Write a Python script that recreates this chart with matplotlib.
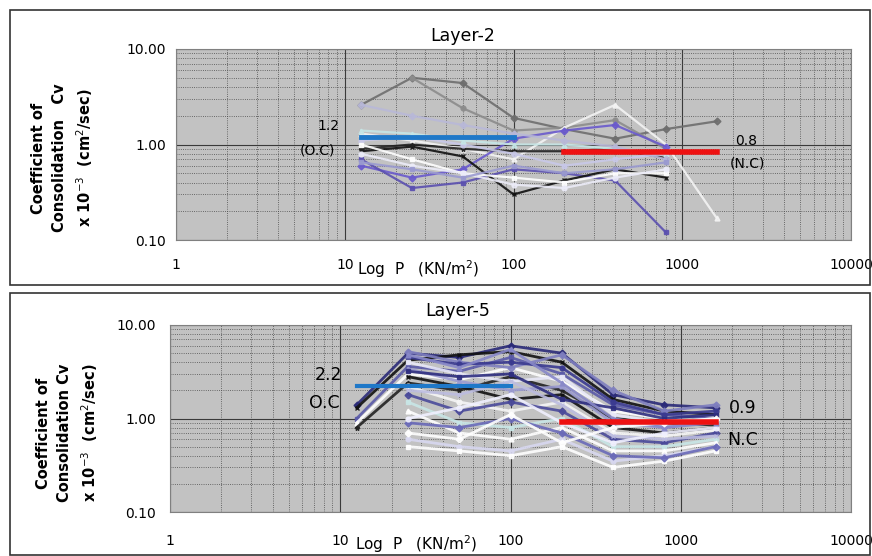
import numpy as np
import matplotlib
matplotlib.use("Agg")
import matplotlib.pyplot as plt
from matplotlib.patches import Rectangle
from matplotlib.ticker import LogLocator, FixedLocator, NullFormatter

plt.rcParams['font.family'] = ['DejaVu Sans']

# load steps (kN/m2)
pressure = [12.5, 25, 50, 100, 200, 400, 800, 1600]
nan = np.nan

# Layer-2 test curves (Cv x 1e-3 cm2/sec)
layer2_series = [
    ([2.6, 5.0, 4.4, 1.9, 1.45, 1.15, 1.45, 1.75], '#6e6e6e', 'D'),
    ([nan, 5.0, 2.4, 1.4, 1.5, 1.8, 0.9, nan], '#8c8c8c', 'o'),
    ([1.3, 1.1, 0.9, 0.7, 1.5, 2.6, 1.0, 0.17], '#f4f4f4', '^'),
    ([0.6, 0.45, 0.55, 1.15, 1.4, 1.6, 0.95, nan], '#6a5acd', 'D'),
    ([0.7, 0.35, 0.4, 0.55, 0.5, 0.42, 0.12, nan], '#5b50b0', 's'),
    ([0.85, 0.95, 0.75, 0.3, 0.42, 0.55, 0.45, nan], '#111111', 'x'),
    ([0.9, 1.0, 0.9, 0.85, 0.85, 0.9, 0.72, nan], '#222222', '*'),
    ([1.1, 1.2, 1.0, 0.8, 0.6, 0.7, 0.8, nan], '#c8c8e8', 'o'),
    ([1.0, 0.7, 0.5, 0.45, 0.4, 0.5, 0.5, nan], '#ffffff', 's'),
    ([1.4, 1.3, 1.1, 1.0, 1.0, 0.9, 0.8, nan], '#c6e6e6', '^'),
    ([2.6, 2.0, 1.6, 1.3, 1.1, 0.95, 0.7, nan], '#b8b8d8', 'D'),
    ([0.8, 0.6, 0.5, 0.38, 0.35, 0.45, 0.55, nan], '#ececf8', 'o'),
    ([0.65, 0.55, 0.45, 0.6, 0.5, 0.55, 0.65, nan], '#9a9ad0', 's'),
]

# Layer-5 test curves
layer5_series = [
    ([1.4, 5.0, 4.5, 6.0, 5.0, 1.8, 1.4, 1.3], '#2a2a78', 'D'),
    ([1.3, 4.2, 4.8, 5.2, 4.0, 1.6, 1.2, 1.1], '#111111', 'x'),
    ([1.0, 3.6, 3.2, 4.5, 3.0, 1.4, 1.1, 1.0], '#5a5aa8', 's'),
    ([0.9, 3.0, 2.6, 3.5, 2.5, 1.2, 1.0, 0.9], '#ffffff', '^'),
    ([0.8, 2.4, 2.0, 2.8, 2.0, 1.0, 0.9, 0.85], '#222222', '*'),
    ([nan, 5.2, 4.0, 3.5, 4.8, 2.0, 1.2, 1.4], '#7f7fbf', 'D'),
    ([nan, 4.5, 3.8, 4.0, 3.5, 1.5, 1.1, 1.2], '#3a3a90', 'o'),
    ([nan, 4.0, 3.0, 2.5, 2.8, 1.1, 0.9, 1.0], '#e8e8f8', 's'),
    ([nan, 3.4, 2.5, 2.0, 2.2, 0.9, 0.8, 0.95], '#9a9ad0', '^'),
    ([nan, 2.8, 2.2, 1.6, 1.8, 0.8, 0.7, 0.8], '#111111', 'x'),
    ([nan, 2.2, 1.5, 1.2, 1.5, 0.7, 0.65, 0.75], '#f6f6f6', 'o'),
    ([nan, 1.8, 1.2, 1.5, 1.2, 0.6, 0.55, 0.7], '#4a4a9a', 'D'),
    ([nan, 1.5, 0.9, 0.8, 1.0, 0.5, 0.5, 0.6], '#c8e6e6', 's'),
    ([nan, 1.2, 0.7, 0.6, 0.8, 0.45, 0.45, 0.55], '#ffffff', '^'),
    ([nan, 0.6, 0.5, 0.45, 0.6, 0.35, 0.4, 0.5], '#d8d8f0', 'o'),
    ([nan, 0.5, 0.45, 0.4, 0.5, 0.3, 0.35, 0.45], '#ffffff', 's'),
    ([nan, 0.9, 0.8, 1.0, 0.7, 0.4, 0.38, 0.5], '#6a6ab8', 'D'),
    ([nan, 2.0, 1.8, 2.5, 1.4, 0.65, 0.6, 0.65], '#bcbce0', 'x'),
    ([nan, 3.2, 2.8, 3.0, 1.6, 1.3, 1.0, 1.1], '#2f2f80', 's'),
    ([nan, 1.0, 1.3, 1.8, 0.9, 0.55, 0.7, 0.8], '#f0f0ff', 'o'),
    ([nan, 4.8, 3.5, 5.5, 2.4, 1.0, 0.8, 0.9], '#8888c8', '^'),
    ([nan, 0.7, 0.6, 1.1, 0.55, 0.8, 0.9, 1.0], '#ffffff', 'D'),
]

# average lines: (value, x start, x end)
layer2_oc = (1.2, 12.5, 100)
layer2_nc = (0.84, 200, 1600)
layer5_oc = (2.2, 12.5, 100)
layer5_nc = (0.92, 200, 1600)

x_ticks = [1, 10, 100, 1000, 10000]
y_ticks = [0.1, 1, 10]
y_tick_labels = ['0.10', '1.00', '10.00']

W, H = 872, 556
fig = plt.figure(figsize=(W / 100, H / 100), dpi=100)

# panel frames
fig.patches.append(Rectangle((10 / W, 1 - 285 / H), 860 / W, 275 / H, transform=fig.transFigure,
                             fill=False, edgecolor='#333333', linewidth=1.2))
fig.patches.append(Rectangle((10 / W, 0.002), 860 / W, 1 - 293 / H - 0.002, transform=fig.transFigure,
                             fill=False, edgecolor='#333333', linewidth=1.2))


def setup_axes(ax, xpad, ypad):
    ax.set_xscale('log')
    ax.set_yscale('log')
    ax.set_xlim(1, 10000)
    ax.set_ylim(0.1, 10)
    ax.set_facecolor('#c2c2c2')
    ax.xaxis.set_major_locator(FixedLocator(x_ticks))
    ax.set_xticklabels([str(t) for t in x_ticks])
    ax.yaxis.set_major_locator(FixedLocator(y_ticks))
    ax.set_yticklabels(y_tick_labels)
    ax.xaxis.set_minor_locator(LogLocator(base=10, subs=np.arange(2, 10)))
    ax.yaxis.set_minor_locator(LogLocator(base=10, subs=np.arange(2, 10)))
    ax.xaxis.set_minor_formatter(NullFormatter())
    ax.yaxis.set_minor_formatter(NullFormatter())
    ax.grid(which='major', color='#3a3a3a', linewidth=0.8, linestyle='-')
    ax.grid(which='minor', color='#4a4a4a', linewidth=0.6, linestyle=':')
    ax.set_axisbelow(True)
    ax.tick_params(which='both', length=0)
    ax.tick_params(axis='x', pad=xpad, labelsize=10)
    ax.tick_params(axis='y', pad=ypad, labelsize=10)
    for s in ax.spines.values():
        s.set_color('#808080')
        s.set_linewidth(0.8)


def draw_series(ax, series, lw):
    for vals, color, marker in series:
        ax.plot(pressure, vals, color=color, marker=marker, markersize=3.5,
                linewidth=lw, markeredgecolor=color, alpha=0.9)


# ---- Layer-2 ----
ax1 = fig.add_axes([176 / W, 1 - 240 / H, 675 / W, 191 / H])
setup_axes(ax1, 13, 7)
draw_series(ax1, layer2_series, 1.6)
ax1.plot([layer2_oc[1], layer2_oc[2]], [layer2_oc[0]] * 2, color='#1f78c8', linewidth=3.5)
ax1.plot([layer2_nc[1], layer2_nc[2]], [layer2_nc[0]] * 2, color='#ee1111', linewidth=4)
ax1.text(8.0, 1.58, '1.2', fontsize=10, ha='center', va='center')
ax1.text(6.9, 0.87, '(O.C)', fontsize=10, ha='center', va='center')
ax1.text(2390, 1.1, '0.8', fontsize=10, ha='center', va='center')
ax1.text(2450, 0.63, '(N.C)', fontsize=10, ha='center', va='center')
fig.text(463 / W, 1 - 36 / H, 'Layer-2', fontsize=12.5, ha='center', va='center')
fig.text(357 / W, 1 - 269 / H, 'Log  P   (KN/m$^2$)', fontsize=11, ha='left', va='center')
fig.text(63 / W, 1 - 158 / H, 'Coefficient of\nConsolidation   Cv\nx 10$^{-3}$  (cm$^2$/sec)',
         rotation=90, fontsize=10.5, fontweight='bold', ha='center', va='center',
         linespacing=1.45)

# ---- Layer-5 ----
ax2 = fig.add_axes([170 / W, 1 - 512 / H, 681 / W, 187 / H])
setup_axes(ax2, 16, 10)
draw_series(ax2, layer5_series, 2.0)
ax2.plot([layer5_oc[1], layer5_oc[2]], [layer5_oc[0]] * 2, color='#1f78c8', linewidth=3)
ax2.plot([layer5_nc[1], layer5_nc[2]], [layer5_nc[0]] * 2, color='#ee1111', linewidth=4)
ax2.text(8.5, 2.92, '2.2', fontsize=12.5, ha='center', va='center')
ax2.text(8.1, 1.47, 'O.C', fontsize=12.5, ha='center', va='center')
ax2.text(2320, 1.29, '0.9', fontsize=12.5, ha='center', va='center')
ax2.text(2320, 0.59, 'N.C', fontsize=12.5, ha='center', va='center')
fig.text(458 / W, 1 - 311 / H, 'Layer-5', fontsize=12.5, ha='center', va='center')
fig.text(355 / W, 1 - 544 / H, 'Log  P   (KN/m$^2$)', fontsize=11, ha='left', va='center')
fig.text(68 / W, 1 - 433 / H, 'Coefficient of\nConsolidation Cv\nx 10$^{-3}$  (cm$^2$/sec)',
         rotation=90, fontsize=10.5, fontweight='bold', ha='center', va='center',
         linespacing=1.45)

fig.savefig('out.png', dpi=100)
